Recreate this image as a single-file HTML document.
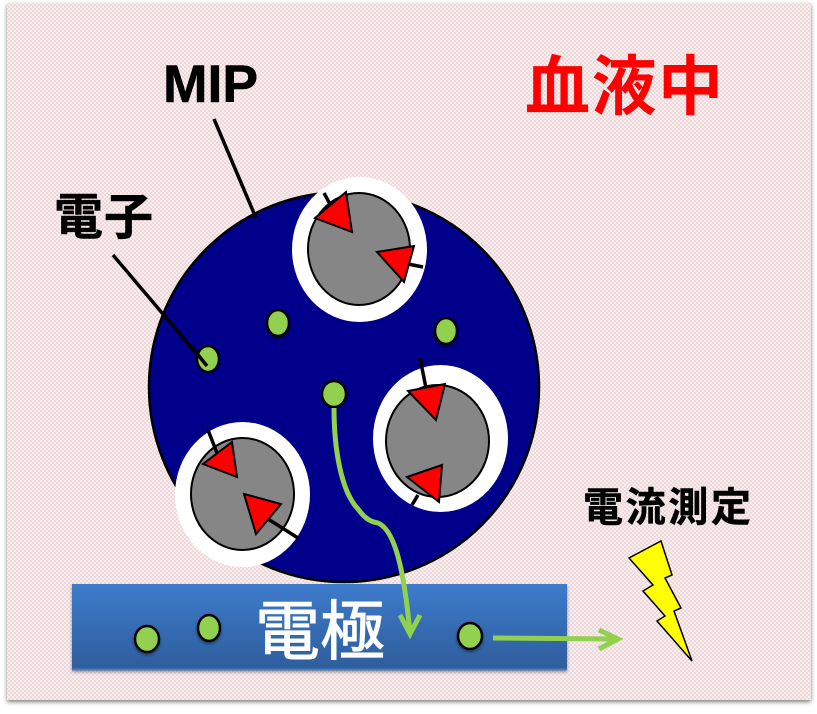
<!DOCTYPE html>
<html><head><meta charset="utf-8">
<style>
html,body{margin:0;padding:0;background:#fff;width:817px;height:714px;overflow:hidden}
svg{display:block}
text{font-family:"Liberation Sans","Noto Sans CJK JP",sans-serif}
</style></head>
<body>
<svg width="817" height="714" viewBox="0 0 817 714" xmlns="http://www.w3.org/2000/svg">
<defs>
<pattern id="dots" width="4" height="4" patternUnits="userSpaceOnUse">
<rect width="4" height="4" fill="#eed8da"/>
<circle cx="1" cy="1" r=".85" fill="#fff"/>
<circle cx="3" cy="3" r=".85" fill="#fff"/>
</pattern>
<linearGradient id="blue" x1="0" y1="0" x2="0" y2="1">
<stop offset="0" stop-color="#3d7bcb"/>
<stop offset="1" stop-color="#2e5d9c"/>
</linearGradient>
<filter id="bgs" x="-5%" y="-5%" width="110%" height="110%"><feDropShadow dx="0" dy="2" stdDeviation="2.2" flood-color="#000" flood-opacity=".5"/></filter>
<filter id="s" x="-20%" y="-20%" width="140%" height="140%"><feDropShadow dx="0" dy="2" stdDeviation="1.5" flood-color="#000" flood-opacity=".4"/></filter>
</defs>
<rect x="7" y="3" width="804" height="697" fill="url(#dots)" filter="url(#bgs)"/>

<ellipse cx="344" cy="387" rx="195" ry="195" fill="#00008b" stroke="#000" stroke-width="2.500"/>

<line x1="214" y1="119" x2="256" y2="218" stroke="#000" stroke-width="3.500"/>
<line x1="113" y1="255" x2="207" y2="366" stroke="#000" stroke-width="3.500"/>

<ellipse cx="359.500" cy="249.500" rx="67.500" ry="72.500" fill="#fff"/>
<ellipse cx="440.500" cy="438.500" rx="67.500" ry="73.500" fill="#fff"/>
<ellipse cx="242.500" cy="494.500" rx="67.500" ry="72.500" fill="#fff"/>

<ellipse cx="359" cy="249" rx="51" ry="56" fill="#868686" stroke="#000" stroke-width="2"/>
<ellipse cx="437.500" cy="441" rx="51.500" ry="56" fill="#868686" stroke="#000" stroke-width="2"/>
<ellipse cx="242.500" cy="494" rx="51.500" ry="56" fill="#868686" stroke="#000" stroke-width="2"/>

<g stroke="#000" stroke-width="3.500">
<line x1="324" y1="193" x2="331" y2="206"/>
<line x1="408" y1="264" x2="423" y2="267"/>
<line x1="420" y1="358" x2="426" y2="388"/>
<line x1="418" y1="495" x2="412" y2="505"/>
<line x1="208" y1="430" x2="217" y2="453"/>
<line x1="268" y1="519" x2="298" y2="538"/>
</g>
<g fill="#ff0000" stroke="#000" stroke-width="2" stroke-linejoin="miter">
<polygon points="346,192 315,218 352,232"/>
<polygon points="414,246 377,252 404,282"/>
<polygon points="445,384 408,391 436,420"/>
<polygon points="442,465 407,477 439,502"/>
<polygon points="232,442 203,464 237,477"/>
<polygon points="244,494 281,504 256,534"/>
</g>

<g fill="#92d050" stroke="#000" stroke-width="2.500">
<ellipse cx="278" cy="323" rx="11" ry="13" filter="url(#s)"/>
<ellipse cx="446" cy="331" rx="11" ry="13" filter="url(#s)"/>
<ellipse cx="208" cy="359" rx="11" ry="13"/>
<ellipse cx="334" cy="394" rx="12" ry="13"/>
</g>
<line x1="190" y1="345" x2="207" y2="366" stroke="#000" stroke-width="3.500"/>

<rect x="72" y="584" width="495" height="86" fill="url(#blue)" filter="url(#s)"/>
<rect x="72" y="668.500" width="495" height="2" fill="#4a7ebb"/>
<text x="255" y="654" font-size="65" fill="#fff" stroke="#fff" stroke-width="1" textLength="130" lengthAdjust="spacingAndGlyphs">電極</text>

<g fill="#92d050" stroke="#000" stroke-width="2.500">
<ellipse cx="147" cy="639" rx="12" ry="13" filter="url(#s)"/>
<ellipse cx="209" cy="628" rx="11" ry="13" filter="url(#s)"/>
<ellipse cx="470" cy="636" rx="12" ry="13" filter="url(#s)"/>
</g>

<g fill="none" stroke="#92d050" stroke-width="5">
<path d="M334 408 C334 445 340 490 358 509 C366 520 372 522 378 523 C395 530 404 570 410 633"/>
<path d="M400 615 L410 634 L420 615"/>
<path d="M493 638 L618 639"/>
<path d="M599 630 L618 639 L599 649"/>
</g>

<polygon points="661,541 672,575 665,578 681,608 674,611 692,661 657,621 665,616 643,591 653,585 629,558" fill="#ffff00" stroke="#000" stroke-width="1.500"/>

<text x="163" y="102" font-size="53" font-weight="700" fill="#000" stroke="#000" stroke-width=".6" textLength="95" lengthAdjust="spacingAndGlyphs">MIP</text>
<text x="525" y="109" font-size="65" font-weight="700" fill="#ff0000" textLength="198" lengthAdjust="spacing">血液中</text>
<text x="54" y="234" font-size="49" font-weight="700" fill="#000" stroke="#000" stroke-width=".5" textLength="99" lengthAdjust="spacing">電子</text>
<text x="583" y="521" font-size="40" font-weight="700" fill="#000" stroke="#000" stroke-width=".5" textLength="168" lengthAdjust="spacing">電流測定</text>
</svg>
</body></html>
